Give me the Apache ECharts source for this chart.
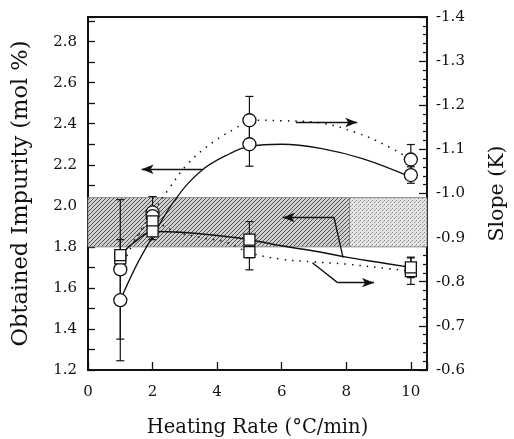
<!DOCTYPE html>
<html>
<head>
<meta charset="utf-8">
<script src="https://cdn.jsdelivr.net/npm/echarts@6/dist/echarts.min.js"></script>
<style>
html, body { margin: 0; padding: 0; background: #fff; }
#chart { width: 514px; height: 439px; }
</style>
</head>
<body>
<div id="chart"></div>
<script>
// measured heating rates
var heatingRate = [1, 2, 5, 10];

// obtained impurity (left axis, mol %)
var impCircle = [1.54, 1.95, 2.30, 2.15];
var impCircleErr = [0.295, 0.04, 0.107, 0.04];
var impSquare = [1.76, 1.875, 1.835, 1.70];
var impSquareErr = [0.02, 0.04, 0.088, 0.05];

// slope (right axis, K)
var slopeCircle = [-0.828, -0.957, -1.166, -1.077];
var slopeCircleErr = [0.158, 0.036, 0.054, 0.034];
var slopeSquare = [-0.853, -0.937, -0.867, -0.824];
var slopeSquareErr = [0.01, 0.02, 0.04, 0.03];

// guide curves
var impCircleFitX = [1, 1.5, 2, 2.7, 3.5, 4.4, 5, 6, 7.2, 8.5, 10];
var impCircleFitY = [1.54, 1.71, 1.85, 2.03, 2.17, 2.255, 2.29, 2.30, 2.28, 2.23, 2.14];
var slopeCircleFitX = [1, 1.5, 2, 2.5, 3.1, 3.9, 4.6, 5, 6, 7.2, 8.3, 9.2, 10];
var slopeCircleFitY = [-0.828, -0.90, -0.957, -1.01, -1.068, -1.118, -1.149, -1.166, -1.165, -1.16, -1.138, -1.11, -1.077];
var impSquareFitX = [1, 1.5, 2, 3, 4, 5, 6, 7, 8, 9, 10];
var impSquareFitY = [1.76, 1.83, 1.875, 1.87, 1.855, 1.835, 1.805, 1.78, 1.75, 1.725, 1.70];
var slopeSquareFitX = [1, 1.5, 2, 2.7, 3.5, 4.3, 5, 6, 7, 8, 9, 10];
var slopeSquareFitY = [-0.853, -0.90, -0.935, -0.914, -0.90, -0.889, -0.866, -0.851, -0.845, -0.84, -0.832, -0.824];

// shaded impurity band (left axis)
var bandLow = 1.8;
var bandHigh = 2.04;
var bandSplitX = 8.1;

// x ticks
var xTicks = [0, 2, 4, 6, 8, 10];

function pairs(xs, ys) {
  return xs.map(function (x, i) { return [x, ys[i]]; });
}

// hatch and stipple textures for the band
function hatch() {
  var c = document.createElement('canvas');
  c.width = 4; c.height = 4;
  var g = c.getContext('2d');
  g.fillStyle = '#d0d0d0';
  g.fillRect(0, 0, 4, 4);
  g.strokeStyle = '#505050';
  g.lineWidth = 1;
  g.beginPath();
  g.moveTo(0, 4); g.lineTo(4, 0);
  g.moveTo(-1, 1); g.lineTo(1, -1);
  g.moveTo(3, 5); g.lineTo(5, 3);
  g.stroke();
  return c;
}
function stipple() {
  var c = document.createElement('canvas');
  c.width = 4; c.height = 4;
  var g = c.getContext('2d');
  g.fillStyle = '#e4e4e4';
  g.fillRect(0, 0, 4, 4);
  g.fillStyle = '#8a8a8a';
  g.fillRect(0, 0, 1, 1);
  g.fillRect(2, 2, 1, 1);
  g.fillStyle = '#b4b4b4';
  g.fillRect(3, 1, 1, 1);
  return c;
}

function errorSeries(ys, errs, axis) {
  return {
    type: 'custom',
    yAxisIndex: axis,
    z: 3,
    silent: true,
    data: heatingRate.map(function (x, i) { return [x, ys[i] - errs[i], ys[i] + errs[i]]; }),
    encode: { x: 0, y: [1, 2] },
    renderItem: function (params, api) {
      var lo = api.coord([api.value(0), api.value(1)]);
      var hi = api.coord([api.value(0), api.value(2)]);
      var w = 4;
      var st = { stroke: '#111', lineWidth: 1.2 };
      return {
        type: 'group',
        children: [
          { type: 'line', shape: { x1: lo[0], y1: lo[1], x2: hi[0], y2: hi[1] }, style: st },
          { type: 'line', shape: { x1: lo[0] - w, y1: lo[1], x2: lo[0] + w, y2: lo[1] }, style: st },
          { type: 'line', shape: { x1: hi[0] - w, y1: hi[1], x2: hi[0] + w, y2: hi[1] }, style: st }
        ]
      };
    }
  };
}

function markerSeries(ys, symbol, size, axis) {
  return {
    type: 'scatter',
    yAxisIndex: axis,
    z: 4,
    symbol: symbol,
    symbolSize: size,
    data: pairs(heatingRate, ys),
    itemStyle: { color: '#fff', borderColor: '#111', borderWidth: 1.3, opacity: 1 }
  };
}

var arrowLine = { color: '#111', width: 1.3, type: 'solid' };
function seg(a, b, head) {
  return [
    { coord: a, symbol: 'none' },
    { coord: b, symbol: head ? 'arrow' : 'none', symbolSize: [7, 12] }
  ];
}

var serif = 'DejaVu Serif';
var chart = echarts.init(document.getElementById('chart'));

var option = {
  animation: false,
  backgroundColor: '#fff',
  grid: {
    left: 88, right: 87, top: 17, bottom: 69,
    containLabel: false, outerBoundsMode: 'none',
    show: true, borderColor: '#111', borderWidth: 2
  },
  xAxis: {
    type: 'value',
    min: 0, max: 10.5, interval: 2,
    name: 'Heating Rate (°C/min)',
    nameLocation: 'middle',
    nameGap: 48,
    nameTextStyle: { fontFamily: serif, fontSize: 19.5, color: '#111' },
    axisLine: { lineStyle: { color: '#111', width: 2 } },
    axisTick: { inside: true, length: 8, lineStyle: { color: '#111', width: 1.3 } },
    axisLabel: {
      fontFamily: serif, fontSize: 15, color: '#111', margin: 15,
      formatter: function (v) { return xTicks.indexOf(v) >= 0 ? String(v) : ''; }
    },
    splitLine: { show: false }
  },
  yAxis: [
    {
      type: 'value',
      min: 1.2, max: 2.92, interval: 0.2,
      name: 'Obtained Impurity (mol %)',
      nameLocation: 'middle',
      nameGap: 55,
      nameRotate: 90,
      nameTextStyle: { fontFamily: serif, fontSize: 22.5, color: '#111' },
      axisLine: { show: true, lineStyle: { color: '#111', width: 2 } },
      axisTick: { inside: true, length: 7, lineStyle: { color: '#111', width: 1.3 } },
      minorTick: { show: true, splitNumber: 2, length: 7, lineStyle: { color: '#111', width: 1.3 } },
      axisLabel: {
        fontFamily: serif, fontSize: 15, color: '#111', margin: 11,
        formatter: function (v) { return v > 2.85 ? '' : v.toFixed(1); }
      },
      splitLine: { show: false }
    },
    {
      type: 'value',
      position: 'right',
      inverse: true,
      min: -1.4, max: -0.6, interval: 0.1,
      name: 'Slope (K)',
      nameLocation: 'middle',
      nameGap: 60,
      nameRotate: 90,
      nameTextStyle: { fontFamily: serif, fontSize: 20.5, color: '#111' },
      axisLine: { show: true, lineStyle: { color: '#111', width: 2 } },
      axisTick: { inside: true, length: 8, lineStyle: { color: '#111', width: 1.3 } },
      minorTick: { show: true, splitNumber: 5, length: 4, lineStyle: { color: '#111', width: 1.2 } },
      axisLabel: {
        fontFamily: serif, fontSize: 15, color: '#111', margin: 9,
        formatter: function (v) { return v.toFixed(1); }
      },
      splitLine: { show: false }
    }
  ],
  series: [
    {
      type: 'line',
      yAxisIndex: 0,
      z: 1,
      silent: true,
      data: [],
      markArea: {
        silent: true,
        data: [
          [{ coord: [0, bandHigh], itemStyle: { color: { image: hatch(), repeat: 'repeat' }, borderColor: '#777', borderWidth: 0.8 } }, { coord: [bandSplitX, bandLow] }],
          [{ coord: [bandSplitX, bandHigh], itemStyle: { color: { image: stipple(), repeat: 'repeat' }, borderColor: '#777', borderWidth: 0.8 } }, { coord: [10.5, bandLow] }]
        ]
      }
    },
    {
      type: 'line', yAxisIndex: 0, z: 2, smooth: 0.4, showSymbol: false, silent: true,
      data: pairs(impCircleFitX, impCircleFitY),
      lineStyle: { color: '#111', width: 1.3 },
      markLine: {
        silent: true, label: { show: false }, lineStyle: arrowLine,
        data: [
          seg([3.55, 2.178], [1.66, 2.178], true),
          seg([7.62, 1.943], [6.03, 1.943], true),
          seg([7.9, 1.748], [7.62, 1.943], false)
        ]
      }
    },
    {
      type: 'line', yAxisIndex: 1, z: 2, smooth: 0.4, showSymbol: false, silent: true,
      data: pairs(slopeCircleFitX, slopeCircleFitY),
      lineStyle: { color: '#111', width: 1.5, type: [1.5, 6] },
      markLine: {
        silent: true, label: { show: false }, lineStyle: arrowLine,
        data: [
          seg([6.44, -1.161], [8.34, -1.161], true),
          seg([6.95, -0.843], [7.73, -0.798], false),
          seg([7.73, -0.798], [8.86, -0.798], true)
        ]
      }
    },
    {
      type: 'line', yAxisIndex: 0, z: 2, smooth: 0.4, showSymbol: false, silent: true,
      data: pairs(impSquareFitX, impSquareFitY),
      lineStyle: { color: '#111', width: 1.5 }
    },
    {
      type: 'line', yAxisIndex: 1, z: 2, smooth: 0.4, showSymbol: false, silent: true,
      data: pairs(slopeSquareFitX, slopeSquareFitY),
      lineStyle: { color: '#111', width: 1.5, type: [1.5, 6] }
    },
    errorSeries(impCircle, impCircleErr, 0),
    errorSeries(slopeCircle, slopeCircleErr, 1),
    errorSeries(impSquare, impSquareErr, 0),
    errorSeries(slopeSquare, slopeSquareErr, 1),
    markerSeries(slopeCircle, 'circle', 13, 1),
    markerSeries(impCircle, 'circle', 13, 0),
    markerSeries(slopeSquare, 'rect', 11, 1),
    markerSeries(impSquare, 'rect', 11, 0)
  ]
};

chart.setOption(option);
</script>
</body>
</html>
